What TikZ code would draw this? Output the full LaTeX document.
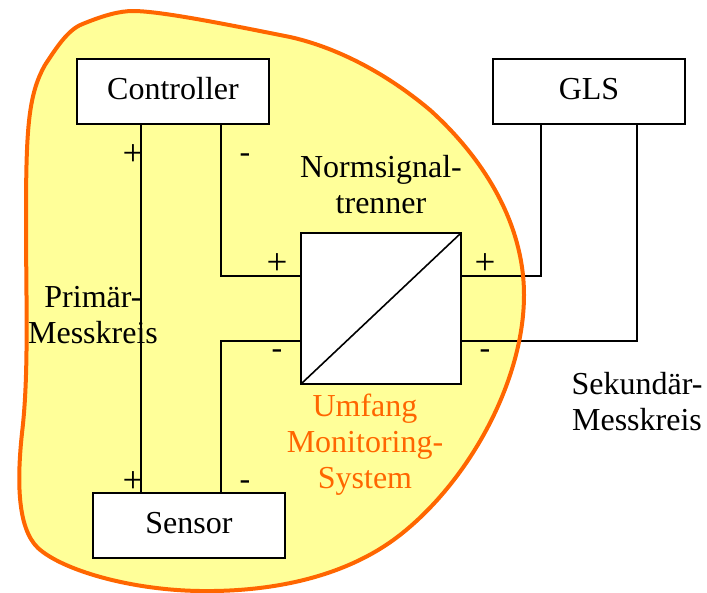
\documentclass[tikz,border=0pt]{standalone}
\usepackage{fontspec}
\setmainfont{Liberation Serif}
\definecolor{scope}{HTML}{FF6600}
\definecolor{area}{HTML}{FFFF99}
\tikzset{
  x=1pt,y=-1pt,
  blockbox/.style={draw=black,line width=1.6pt,fill=white,minimum width=192pt,minimum height=65pt,inner sep=0pt,outer sep=0pt,font=\fontsize{32}{36}\selectfont},
  wire/.style={draw=black,line width=1.6pt,line join=miter},
  lbl/.style={font=\fontsize{32}{36}\selectfont,align=center,inner sep=0pt},
  sign/.style={font=\fontsize{32}{36}\selectfont,inner sep=0pt},
  plussign/.style={font=\fontsize{37}{40}\selectfont,inner sep=0pt},
  orangelbl/.style={lbl,text=scope},
}
\def\blobshape{(133,11)
 .. controls (160,11) and (225,24) .. (290,37)
 .. controls (335,47) and (385,72) .. (430,110)
 .. controls (480,155) and (524,220) .. (524,295)
 .. controls (524,380) and (470,480) .. (400,535)
 .. controls (345,578) and (270,592) .. (200,591)
 .. controls (130,590) and (62,570) .. (38,548)
 .. controls (17,528) and (17,480) .. (22,433)
 .. controls (29,375) and (26,300) .. (26,220)
 .. controls (26,130) and (28,95) .. (45,65)
 .. controls (60,42) and (70,28) .. (85,23)
 .. controls (105,15) and (120,11) .. (133,11) -- cycle}
\begin{document}
\begin{tikzpicture}
\useasboundingbox (0,0) rectangle (707,592);
% Scope fill
\fill[area] \blobshape;
% Connector attachment points
\coordinate (cplus) at (141,124);
\coordinate (cminus) at (221,124);
\coordinate (splus) at (141,493);
\coordinate (sminus) at (221,493);
\coordinate (iinL) at (301,276);
\coordinate (iinR) at (461,276);
\coordinate (imiL) at (301,341);
\coordinate (imiR) at (461,341);
\coordinate (gplus) at (541,124);
\coordinate (gminus) at (637,124);
% Connectors
\draw[wire] (cplus) -- (splus);
\draw[wire] (cminus) |- (iinL);
\draw[wire] (sminus) |- (imiL);
\draw[wire] (iinR) -| (gplus);
\draw[wire] (imiR) -| (gminus);
% Scope outline
\draw[scope,line width=4pt,line join=round] \blobshape;
% Blocks
\node[blockbox] (ctrl) at (173,91.5) {\raisebox{6pt}{Controller}};
\node[blockbox] (gls) at (589,91.5) {\raisebox{5pt}{GLS}};
\node[blockbox] (sensor) at (189,525.5) {\raisebox{5pt}{Sensor}};
\node[draw=black,line width=1.6pt,fill=white,minimum width=160pt,minimum height=151pt,inner sep=0pt,outer sep=0pt] (iso) at (381,308.5) {};
\draw[wire] (iso.south west) -- (iso.north east);
% Signs
\node[plussign] (p1) at (133,155) {+};
\node[sign] (m1) at (245,158) {-};
\node[plussign] (p2) at (277,264) {+};
\node[sign] (m2) at (277,354) {-};
\node[plussign] (p3) at (485,264) {+};
\node[sign] (m3) at (485,354) {-};
\node[plussign] (p4) at (133,482) {+};
\node[sign] (m4) at (245,485) {-};
% Labels
\node[lbl] (nst) at (381,185) {Normsignal-\\trenner};
\node[lbl] (prim) at (93,315) {Primär-\\Messkreis};
\node[lbl] (sek) at (637,402) {Sekundär-\\Messkreis};
\node[orangelbl] (umf) at (365,445) {Umfang\\Monitoring-\\System};
\end{tikzpicture}
\end{document}
